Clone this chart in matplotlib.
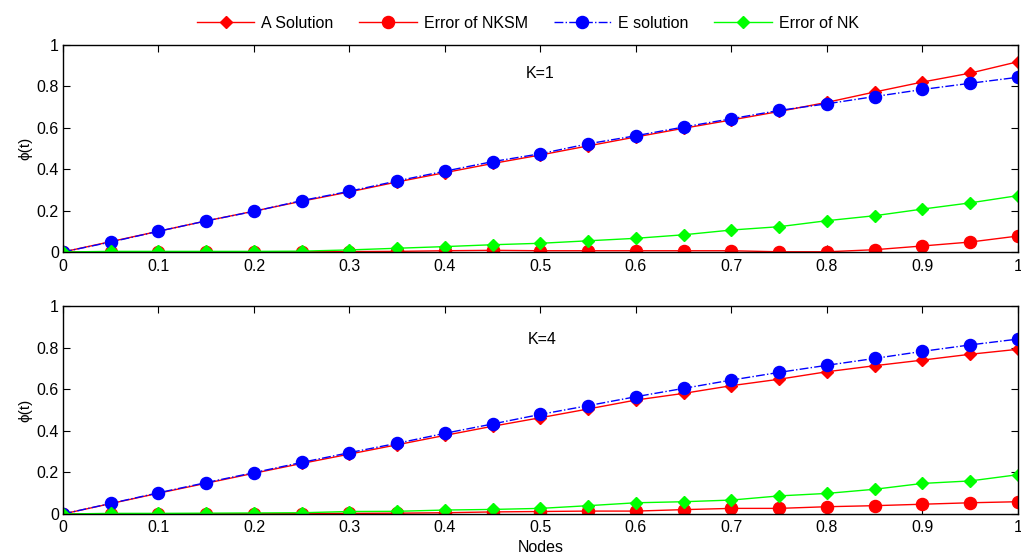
import matplotlib
matplotlib.use("Agg")
import matplotlib.pyplot as plt
import numpy as np

plt.rcParams['font.family'] = ['Liberation Sans', 'DejaVu Sans']

nodes = [0, 0.05, 0.1, 0.15, 0.2, 0.25, 0.3, 0.35, 0.4, 0.45, 0.5,
         0.55, 0.6, 0.65, 0.7, 0.75, 0.8, 0.85, 0.9, 0.95, 1.0]

# K=1
a_sol_k1 = [0, 0.05, 0.1, 0.15, 0.197, 0.245, 0.29, 0.338, 0.383, 0.427, 0.468,
            0.512, 0.555, 0.597, 0.637, 0.678, 0.722, 0.772, 0.82, 0.863, 0.918]
e_sol_k1 = [0, 0.048, 0.1, 0.15, 0.196, 0.248, 0.293, 0.343, 0.39, 0.436, 0.474,
            0.522, 0.561, 0.603, 0.643, 0.683, 0.715, 0.75, 0.784, 0.814, 0.843]
err_nksm_k1 = [0, 0.001, 0.001, 0.001, 0.001, 0.001, 0.002, 0.003, 0.006, 0.008, 0.006,
               0.006, 0.006, 0.006, 0.006, 0.001, 0.001, 0.011, 0.029, 0.048, 0.077]
err_nk_k1 = [0, 0.003, 0.003, 0.003, 0.003, 0.004, 0.01, 0.018, 0.026, 0.035, 0.042,
             0.054, 0.066, 0.083, 0.106, 0.122, 0.151, 0.175, 0.207, 0.237, 0.272]

# K=4
a_sol_k4 = [0, 0.05, 0.1, 0.148, 0.196, 0.243, 0.288, 0.333, 0.378, 0.422, 0.463,
            0.505, 0.548, 0.58, 0.617, 0.648, 0.684, 0.713, 0.74, 0.768, 0.792]
e_sol_k4 = [0, 0.051, 0.102, 0.151, 0.199, 0.248, 0.295, 0.34, 0.388, 0.433, 0.479,
            0.521, 0.564, 0.604, 0.644, 0.681, 0.715, 0.748, 0.782, 0.813, 0.841]
err_nksm_k4 = [0, 0.001, 0.001, 0.001, 0.001, 0.002, 0.003, 0.004, 0.006, 0.01, 0.012,
               0.014, 0.014, 0.021, 0.027, 0.027, 0.035, 0.04, 0.047, 0.054, 0.059]
err_nk_k4 = [0, 0.003, 0.003, 0.004, 0.005, 0.006, 0.012, 0.013, 0.019, 0.022, 0.027,
             0.04, 0.054, 0.059, 0.067, 0.087, 0.099, 0.119, 0.147, 0.159, 0.189]

panels = [
    ("K=1", a_sol_k1, err_nksm_k1, e_sol_k1, err_nk_k1, (0.485, 0.86)),
    ("K=4", a_sol_k4, err_nksm_k4, e_sol_k4, err_nk_k4, (0.487, 0.84)),
]

fig = plt.figure(figsize=(10.21, 5.57), dpi=100)
positions = [[0.0617, 0.5476, 0.9353, 0.3721], [0.0617, 0.0772, 0.9353, 0.3734]]

handles = None
for i, (pos, (label, a, e1, es, e2, tpos)) in enumerate(zip(positions, panels)):
    ax = fig.add_axes(pos)
    h1, = ax.plot(nodes, a, color='#ff0000', lw=1.0, marker='D', ms=6.5,
                  mfc='#ff0000', mec='#ff0000', label='A Solution')
    h2, = ax.plot(nodes, e1, color='#ff0000', lw=1.0, marker='o', ms=8.7,
                  mfc='#ff0000', mec='#ff0000', label='Error of NKSM')
    h3, = ax.plot(nodes, es, color='#0000ff', lw=1.0, ls='-.', marker='o', ms=8.7,
                  mfc='#0000ff', mec='#0000ff', label='E solution')
    h4, = ax.plot(nodes, e2, color='#00ff00', lw=1.0, marker='D', ms=6.5,
                  mfc='#00ff00', mec='#00ff00', label='Error of NK')
    handles = [h1, h2, h3, h4]
    ax.set_xlim(0, 1)
    ax.set_ylim(0, 1)
    ax.set_xticks(np.arange(0, 1.01, 0.1))
    ax.set_xticklabels(['0', '0.1', '0.2', '0.3', '0.4', '0.5', '0.6', '0.7', '0.8', '0.9', '1'])
    ax.set_yticks([0, 0.2, 0.4, 0.6, 0.8, 1])
    ax.set_yticklabels(['0', '0.2', '0.4', '0.6', '0.8', '1'])
    ax.tick_params(direction='in', top=True, right=True, length=5, width=0.8,
                   labelsize=11.5, pad=3)
    ax.tick_params(axis='x', pad=5 if i == 0 else 4)
    for sp in ax.spines.values():
        sp.set_linewidth(1.0)
    ax.set_ylabel('ϕ(t)', fontsize=11, labelpad=3)
    ax.text(tpos[0], tpos[1], label, fontsize=11.5, ha='left', va='center')
    last_ax = ax

last_ax.set_xlabel('Nodes', fontsize=11.5, labelpad=4)

fig.legend(handles=handles, loc='center', bbox_to_anchor=(0.517, 0.958), ncol=4,
           frameon=False, fontsize=11.5, handlelength=3.6, columnspacing=1.6,
           handletextpad=0.45)

fig.savefig('out.png', dpi=100)
